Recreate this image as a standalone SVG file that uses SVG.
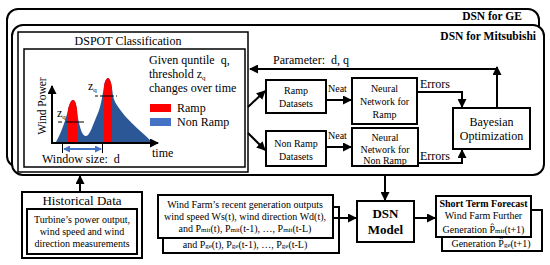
<svg xmlns="http://www.w3.org/2000/svg" width="550" height="265" viewBox="0 0 550 265" font-family="'Liberation Serif', 'DejaVu Serif', serif">
<style>
text{font-family:"Liberation Serif","DejaVu Serif",serif;fill:#000}
.b{font-weight:bold}
.box{fill:#fff;stroke:#000;stroke-width:2}
.thin{fill:#fff;stroke:#000;stroke-width:1.5}
.c{stroke:#000;stroke-width:2;fill:none;marker-end:url(#ah)}
.t10{font-size:10px}
.t11{font-size:11.5px}
.t12{font-size:12px}
.pre{white-space:pre}
</style>
<defs>
<marker id="ah" markerUnits="userSpaceOnUse" markerWidth="9" markerHeight="9" refX="8" refY="4.5" orient="auto">
<path d="M0,0 L9,4.5 L0,9 z" fill="#000"/>
</marker>
<marker id="bh" markerUnits="userSpaceOnUse" markerWidth="7" markerHeight="7" refX="6" refY="3.5" orient="auto-start-reverse">
<path d="M0,0 L7,3.5 L0,7 z" fill="#4472C4"/>
</marker>
<clipPath id="mt">
<path d="M56,142 C60,135 64,125 67,114 C69,104 71,100 73,100 C76,100 77,108 78,118 C80,128 82,136 86,136 C90,136 93,124 98,113 C101,106 103,92 104,86 C105,80 107,78 108,78 C110,78 112,84 113,96 C115,104 119,108 125,116 C133,125 144,134 152,142 Z"/>
</clipPath>
</defs>

<g id="dsn-ge">
<rect x="7" y="9" width="532" height="158" rx="11" class="box"/>
<text x="522" y="20" class="b t11" text-anchor="end">DSN for GE</text>
</g>
<g id="dsn-mitsubishi">
<rect x="12" y="25" width="532" height="150" rx="11" class="box"/>
<text x="536" y="40" class="b t11" text-anchor="end">DSN for Mitsubishi</text>
</g>

<g id="dspot">
<rect x="18" y="32" width="230" height="140" class="thin"/>
<text x="128" y="45" class="t12" text-anchor="middle">DSPOT Classification</text>
<rect x="24" y="49" width="221" height="118" class="thin"/>
<path d="M56,142 C60,135 64,125 67,114 C69,104 71,100 73,100 C76,100 77,108 78,118 C80,128 82,136 86,136 C90,136 93,124 98,113 C101,106 103,92 104,86 C105,80 107,78 108,78 C110,78 112,84 113,96 C115,104 119,108 125,116 C133,125 144,134 152,142 Z" fill="#2B5797"/>
<g clip-path="url(#mt)" fill="#FF0000">
<rect x="68" y="70" width="9" height="75"/>
<rect x="104" y="70" width="8" height="75"/>
</g>
<path d="M52,143 V86" class="c"/>
<path d="M51,143 H158" class="c"/>
<line x1="58" y1="122" x2="87" y2="122" stroke="#000" stroke-width="1" stroke-dasharray="4 4 18 3 2"/>
<line x1="95" y1="96" x2="117" y2="96" stroke="#000" stroke-width="1" stroke-dasharray="3 2 14 2 3"/>
<text x="57" y="117" class="t12">z<tspan font-size="7" dy="1.5">q</tspan></text>
<text x="88" y="90" class="t12">z<tspan font-size="7" dy="1.5">q</tspan></text>
<text transform="translate(46,106) rotate(-90)" class="t11" text-anchor="middle">Wind Power</text>
<text x="152" y="157" class="t12">time</text>
<line x1="62.5" y1="143" x2="62.5" y2="153" stroke="#000" stroke-width="1"/>
<line x1="102.5" y1="143" x2="102.5" y2="153" stroke="#000" stroke-width="1"/>
<line x1="64" y1="149" x2="101" y2="149" stroke="#4472C4" stroke-width="2" marker-start="url(#bh)" marker-end="url(#bh)"/>
<text x="42" y="163" class="t12 pre">Window size:  d</text>
<text x="149" y="64" class="t12 pre">Given quntile  q,</text>
<text x="149" y="78" class="t12">threshold z<tspan font-size="7" dy="1.5">q</tspan></text>
<text x="149" y="92" class="t12">changes over time</text>
<rect x="150" y="104" width="21" height="8" fill="#FF0000"/>
<text x="177" y="112" class="t12">Ramp</text>
<rect x="150" y="118" width="21" height="8" fill="#4472C4"/>
<text x="177" y="126" class="t12">Non Ramp</text>
</g>

<g id="ramp-datasets">
<rect x="266" y="80" width="60" height="33" class="box"/>
<text x="296" y="94" class="t10" text-anchor="middle">Ramp</text>
<text x="296" y="107" class="t10" text-anchor="middle">Datasets</text>
</g>
<g id="nonramp-datasets">
<rect x="266" y="131" width="60" height="35" class="box"/>
<text x="296" y="147" class="t10" text-anchor="middle">Non Ramp</text>
<text x="296" y="160" class="t10" text-anchor="middle">Datasets</text>
</g>
<g id="nn-ramp">
<rect x="352" y="78" width="65" height="46" class="box"/>
<text x="384.5" y="92" class="t10" text-anchor="middle">Neural</text>
<text x="384.5" y="105" class="t10" text-anchor="middle">Network for</text>
<text x="384.5" y="118" class="t10" text-anchor="middle">Ramp</text>
</g>
<g id="nn-nonramp">
<rect x="352" y="128" width="66" height="38" class="box"/>
<text x="385" y="141" class="t10" text-anchor="middle">Neural</text>
<text x="385" y="153" class="t10" text-anchor="middle">Network for</text>
<text x="385" y="164" class="t10" text-anchor="middle">Non Ramp</text>
</g>
<g id="bayesian">
<rect x="453" y="108" width="77" height="41" class="box"/>
<text x="491.5" y="126" class="t12" text-anchor="middle">Bayesian</text>
<text x="491.5" y="140" class="t12" text-anchor="middle">Optimization</text>
</g>

<g id="historical">
<rect x="22" y="192" width="120" height="66" class="box"/>
<text x="82" y="205" font-size="13" text-anchor="middle">Historical Data</text>
<rect x="27" y="209" width="110" height="45" class="box"/>
<text x="82" y="223" class="t10" text-anchor="middle">Turbine’s power output,</text>
<text x="82" y="235" class="t10" text-anchor="middle">wind speed and wind</text>
<text x="82" y="247" class="t10" text-anchor="middle">direction measurements</text>
</g>

<g id="windfarm">
<rect x="163" y="207" width="176" height="46" class="box"/>
<rect x="158" y="195" width="175" height="43" class="box"/>
<text x="245" y="208" class="t10" text-anchor="middle">Wind Farm’s recent generation outputs</text>
<text x="245" y="220" class="t10" text-anchor="middle">wind speed Ws(t), wind direction Wd(t),</text>
<text x="245" y="232" class="t10" text-anchor="middle">and P<tspan font-size="7">mit</tspan>(t), P<tspan font-size="7">mit</tspan>(t-1), …, P<tspan font-size="7">mit</tspan>(t-L)</text>
<text x="245" y="248" class="t10" text-anchor="middle">and P<tspan font-size="7">ge</tspan>(t), P<tspan font-size="7">ge</tspan>(t-1), …, P<tspan font-size="7">ge</tspan>(t-L)</text>
</g>

<g id="dsn-model">
<rect x="357" y="201" width="57" height="41" class="box"/>
<text x="385.5" y="218" font-size="13" class="b" text-anchor="middle">DSN</text>
<text x="385.5" y="234" font-size="13" class="b" text-anchor="middle">Model</text>
</g>

<g id="forecast">
<rect x="442" y="210" width="100" height="41" class="box"/>
<rect x="436" y="196" width="95" height="41" class="box"/>
<text x="483.5" y="207" class="t10 b" text-anchor="middle">Short Term Forecast</text>
<text x="483.5" y="219" class="t10" text-anchor="middle">Wind Farm Further</text>
<text x="483.5" y="233" class="t10" text-anchor="middle">Generation P̂<tspan font-size="7">mit</tspan>(t+1)</text>
<text x="491" y="247" class="t10" text-anchor="middle">Generation P̂<tspan font-size="7">ge</tspan>(t+1)</text>
</g>

<g id="connectors">
<path d="M497,108 V67" class="c"/>
<path d="M497,69 H250" class="c"/>
<text x="273" y="64" class="t12 pre">Parameter:  d, q</text>
<path d="M248,107 L265,91" class="c"/>
<path d="M248,133 L265,150" class="c"/>
<path d="M326,100 H351" class="c"/>
<text x="328" y="92" class="t10">Neat</text>
<path d="M326,147 H351" class="c"/>
<text x="328" y="139" class="t10">Neat</text>
<path d="M417,92 H462 V107" class="c"/>
<text x="420" y="88" class="t12">Errors</text>
<path d="M418,163 H462 V150" class="c"/>
<text x="420" y="160" class="t12">Errors</text>
<path d="M80,192 V176" class="c"/>
<path d="M385,176 V200" class="c"/>
<path d="M333,218 H356" class="c"/>
<path d="M414,218 H435" class="c"/>
</g>
</svg>
